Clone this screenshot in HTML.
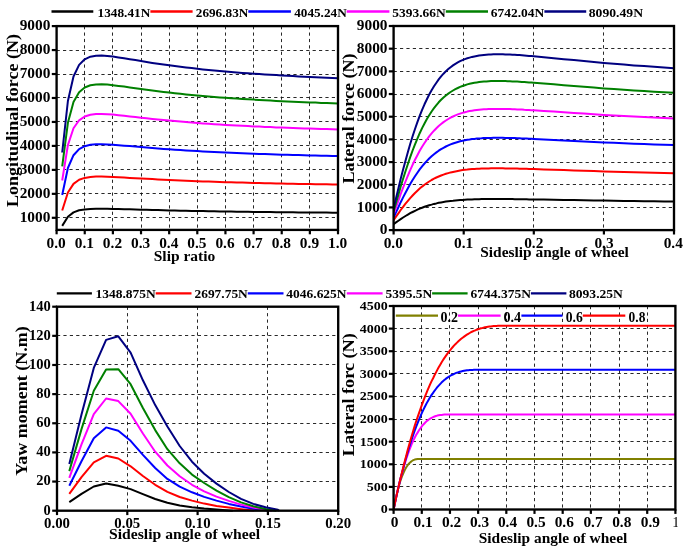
<!DOCTYPE html>
<html><head><meta charset="utf-8"><title>Tire force curves</title>
<style>
html,body{margin:0;padding:0;background:#fff;}
body{width:685px;height:548px;overflow:hidden;font-family:"Liberation Serif",serif;}
svg{display:block;will-change:transform;}
.g{stroke:#111;stroke-width:0.9;stroke-dasharray:3.2 3.2;}
.t{stroke:#000;stroke-width:2.2;}
</style></head><body>
<svg width="685" height="548" viewBox="0 0 685 548">
<defs>
<clipPath id="c2"><rect x="393.6" y="26.0" width="280.4" height="204.1"/></clipPath>
<clipPath id="c1"><rect x="660" y="510" width="17.6" height="30"/></clipPath>
<clipPath id="c4"><rect x="393.6" y="306.0" width="281.79999999999995" height="203.5"/></clipPath>
</defs>
<rect x="0" y="0" width="685" height="548" fill="#ffffff"/>
<line x1="84.50" y1="26.10" x2="84.50" y2="229.90" class="g"/>
<line x1="112.50" y1="26.10" x2="112.50" y2="229.90" class="g"/>
<line x1="141.50" y1="26.10" x2="141.50" y2="229.90" class="g"/>
<line x1="169.50" y1="26.10" x2="169.50" y2="229.90" class="g"/>
<line x1="197.50" y1="26.10" x2="197.50" y2="229.90" class="g"/>
<line x1="225.50" y1="26.10" x2="225.50" y2="229.90" class="g"/>
<line x1="253.50" y1="26.10" x2="253.50" y2="229.90" class="g"/>
<line x1="281.50" y1="26.10" x2="281.50" y2="229.90" class="g"/>
<line x1="309.50" y1="26.10" x2="309.50" y2="229.90" class="g"/>
<line x1="56.60" y1="217.50" x2="338.00" y2="217.50" class="g"/>
<line x1="56.60" y1="193.50" x2="338.00" y2="193.50" class="g"/>
<line x1="56.60" y1="169.50" x2="338.00" y2="169.50" class="g"/>
<line x1="56.60" y1="145.50" x2="338.00" y2="145.50" class="g"/>
<line x1="56.60" y1="121.50" x2="338.00" y2="121.50" class="g"/>
<line x1="56.60" y1="97.50" x2="338.00" y2="97.50" class="g"/>
<line x1="56.60" y1="74.50" x2="338.00" y2="74.50" class="g"/>
<line x1="56.60" y1="50.50" x2="338.00" y2="50.50" class="g"/>
<path d="M62.2,225.9 L67.9,216.8 L73.5,212.4 L79.1,210.3 L84.7,209.4 L90.4,208.9 L96.0,208.7 L101.6,208.7 L107.3,208.8 L112.9,208.9 L118.5,209.0 L124.1,209.2 L129.8,209.3 L135.4,209.5 L141.0,209.7 L146.6,209.8 L152.3,210.0 L157.9,210.1 L163.5,210.3 L169.2,210.4 L174.8,210.6 L180.4,210.7 L186.0,210.8 L191.7,210.9 L197.3,211.0 L202.9,211.1 L208.6,211.2 L214.2,211.3 L219.8,211.4 L225.4,211.5 L231.1,211.6 L236.7,211.7 L242.3,211.8 L248.0,211.8 L253.6,211.9 L259.2,212.0 L264.8,212.0 L270.5,212.1 L276.1,212.2 L281.7,212.2 L287.3,212.3 L293.0,212.3 L298.6,212.4 L304.2,212.4 L309.9,212.5 L315.5,212.5 L321.1,212.6 L326.7,212.6 L332.4,212.7 L338.0,212.7" fill="none" stroke="#000000" stroke-width="2.0" stroke-linejoin="round" stroke-linecap="butt"/>
<path d="M62.2,210.5 L67.9,192.5 L73.5,183.9 L79.1,179.8 L84.7,177.9 L90.4,177.0 L96.0,176.6 L101.6,176.6 L107.3,176.7 L112.9,176.9 L118.5,177.2 L124.1,177.5 L129.8,177.9 L135.4,178.2 L141.0,178.5 L146.6,178.8 L152.3,179.1 L157.9,179.4 L163.5,179.7 L169.2,180.0 L174.8,180.3 L180.4,180.5 L186.0,180.8 L191.7,181.0 L197.3,181.2 L202.9,181.4 L208.6,181.6 L214.2,181.8 L219.8,182.0 L225.4,182.2 L231.1,182.3 L236.7,182.5 L242.3,182.6 L248.0,182.8 L253.6,182.9 L259.2,183.1 L264.8,183.2 L270.5,183.3 L276.1,183.4 L281.7,183.6 L287.3,183.7 L293.0,183.8 L298.6,183.9 L304.2,184.0 L309.9,184.1 L315.5,184.2 L321.1,184.3 L326.7,184.3 L332.4,184.4 L338.0,184.5" fill="none" stroke="#ff0000" stroke-width="2.0" stroke-linejoin="round" stroke-linecap="butt"/>
<path d="M62.2,195.0 L67.9,168.0 L73.5,155.2 L79.1,149.1 L84.7,146.2 L90.4,144.8 L96.0,144.3 L101.6,144.2 L107.3,144.4 L112.9,144.8 L118.5,145.2 L124.1,145.7 L129.8,146.1 L135.4,146.6 L141.0,147.1 L146.6,147.6 L152.3,148.1 L157.9,148.5 L163.5,148.9 L169.2,149.3 L174.8,149.7 L180.4,150.1 L186.0,150.5 L191.7,150.8 L197.3,151.1 L202.9,151.5 L208.6,151.8 L214.2,152.0 L219.8,152.3 L225.4,152.6 L231.1,152.8 L236.7,153.1 L242.3,153.3 L248.0,153.5 L253.6,153.7 L259.2,153.9 L264.8,154.1 L270.5,154.3 L276.1,154.5 L281.7,154.7 L287.3,154.8 L293.0,155.0 L298.6,155.1 L304.2,155.3 L309.9,155.4 L315.5,155.6 L321.1,155.7 L326.7,155.8 L332.4,156.0 L338.0,156.1" fill="none" stroke="#0000ff" stroke-width="2.0" stroke-linejoin="round" stroke-linecap="butt"/>
<path d="M62.2,180.5 L67.9,145.1 L73.5,128.3 L79.1,120.3 L84.7,116.5 L90.4,114.7 L96.0,114.0 L101.6,113.9 L107.3,114.2 L112.9,114.6 L118.5,115.2 L124.1,115.8 L129.8,116.4 L135.4,117.1 L141.0,117.7 L146.6,118.3 L152.3,118.9 L157.9,119.5 L163.5,120.1 L169.2,120.6 L174.8,121.1 L180.4,121.6 L186.0,122.1 L191.7,122.5 L197.3,123.0 L202.9,123.4 L208.6,123.8 L214.2,124.2 L219.8,124.5 L225.4,124.9 L231.1,125.2 L236.7,125.5 L242.3,125.8 L248.0,126.1 L253.6,126.4 L259.2,126.6 L264.8,126.9 L270.5,127.1 L276.1,127.4 L281.7,127.6 L287.3,127.8 L293.0,128.0 L298.6,128.2 L304.2,128.4 L309.9,128.6 L315.5,128.8 L321.1,129.0 L326.7,129.1 L332.4,129.3 L338.0,129.5" fill="none" stroke="#ff00ff" stroke-width="2.0" stroke-linejoin="round" stroke-linecap="butt"/>
<path d="M62.2,166.3 L67.9,122.8 L73.5,102.0 L79.1,92.2 L84.7,87.5 L90.4,85.3 L96.0,84.4 L101.6,84.3 L107.3,84.6 L112.9,85.2 L118.5,85.9 L124.1,86.6 L129.8,87.4 L135.4,88.2 L141.0,89.0 L146.6,89.8 L152.3,90.5 L157.9,91.2 L163.5,91.9 L169.2,92.6 L174.8,93.2 L180.4,93.8 L186.0,94.4 L191.7,95.0 L197.3,95.5 L202.9,96.0 L208.6,96.5 L214.2,96.9 L219.8,97.4 L225.4,97.8 L231.1,98.2 L236.7,98.6 L242.3,98.9 L248.0,99.3 L253.6,99.6 L259.2,100.0 L264.8,100.3 L270.5,100.6 L276.1,100.9 L281.7,101.2 L287.3,101.4 L293.0,101.7 L298.6,101.9 L304.2,102.2 L309.9,102.4 L315.5,102.6 L321.1,102.9 L326.7,103.1 L332.4,103.3 L338.0,103.5" fill="none" stroke="#008000" stroke-width="2.0" stroke-linejoin="round" stroke-linecap="butt"/>
<path d="M62.2,152.5 L67.9,101.0 L73.5,76.5 L79.1,64.9 L84.7,59.3 L90.4,56.7 L96.0,55.7 L101.6,55.6 L107.3,55.9 L112.9,56.6 L118.5,57.4 L124.1,58.3 L129.8,59.2 L135.4,60.1 L141.0,61.1 L146.6,62.0 L152.3,62.9 L157.9,63.7 L163.5,64.5 L169.2,65.3 L174.8,66.1 L180.4,66.8 L186.0,67.5 L191.7,68.1 L197.3,68.8 L202.9,69.4 L208.6,69.9 L214.2,70.5 L219.8,71.0 L225.4,71.5 L231.1,72.0 L236.7,72.4 L242.3,72.9 L248.0,73.3 L253.6,73.7 L259.2,74.1 L264.8,74.4 L270.5,74.8 L276.1,75.1 L281.7,75.5 L287.3,75.8 L293.0,76.1 L298.6,76.4 L304.2,76.7 L309.9,77.0 L315.5,77.2 L321.1,77.5 L326.7,77.7 L332.4,78.0 L338.0,78.2" fill="none" stroke="#000080" stroke-width="2.0" stroke-linejoin="round" stroke-linecap="butt"/>
<rect x="56.60" y="26.10" width="281.40" height="203.80" fill="none" stroke="#000" stroke-width="2.35"/>
<line x1="56.60" y1="229.90" x2="56.60" y2="234.30" class="t"/>
<line x1="84.74" y1="229.90" x2="84.74" y2="234.30" class="t"/>
<line x1="112.88" y1="229.90" x2="112.88" y2="234.30" class="t"/>
<line x1="141.02" y1="229.90" x2="141.02" y2="234.30" class="t"/>
<line x1="169.16" y1="229.90" x2="169.16" y2="234.30" class="t"/>
<line x1="197.30" y1="229.90" x2="197.30" y2="234.30" class="t"/>
<line x1="225.44" y1="229.90" x2="225.44" y2="234.30" class="t"/>
<line x1="253.58" y1="229.90" x2="253.58" y2="234.30" class="t"/>
<line x1="281.72" y1="229.90" x2="281.72" y2="234.30" class="t"/>
<line x1="309.86" y1="229.90" x2="309.86" y2="234.30" class="t"/>
<line x1="338.00" y1="229.90" x2="338.00" y2="234.30" class="t"/>
<line x1="56.60" y1="217.80" x2="51.80" y2="217.80" class="t"/>
<line x1="56.60" y1="193.84" x2="51.80" y2="193.84" class="t"/>
<line x1="56.60" y1="169.88" x2="51.80" y2="169.88" class="t"/>
<line x1="56.60" y1="145.91" x2="51.80" y2="145.91" class="t"/>
<line x1="56.60" y1="121.95" x2="51.80" y2="121.95" class="t"/>
<line x1="56.60" y1="97.99" x2="51.80" y2="97.99" class="t"/>
<line x1="56.60" y1="74.03" x2="51.80" y2="74.03" class="t"/>
<line x1="56.60" y1="50.06" x2="51.80" y2="50.06" class="t"/>
<line x1="56.60" y1="26.10" x2="51.80" y2="26.10" class="t"/>
<text x="50.40" y="222.00" font-size="14.5" text-anchor="end" font-family="Liberation Serif, serif" font-weight="bold" textLength="30.7" lengthAdjust="spacingAndGlyphs" >1000</text>
<text x="50.40" y="198.04" font-size="14.5" text-anchor="end" font-family="Liberation Serif, serif" font-weight="bold" textLength="30.7" lengthAdjust="spacingAndGlyphs" >2000</text>
<text x="50.40" y="174.07" font-size="14.5" text-anchor="end" font-family="Liberation Serif, serif" font-weight="bold" textLength="30.7" lengthAdjust="spacingAndGlyphs" >3000</text>
<text x="50.40" y="150.11" font-size="14.5" text-anchor="end" font-family="Liberation Serif, serif" font-weight="bold" textLength="30.7" lengthAdjust="spacingAndGlyphs" >4000</text>
<text x="50.40" y="126.15" font-size="14.5" text-anchor="end" font-family="Liberation Serif, serif" font-weight="bold" textLength="30.7" lengthAdjust="spacingAndGlyphs" >5000</text>
<text x="50.40" y="102.19" font-size="14.5" text-anchor="end" font-family="Liberation Serif, serif" font-weight="bold" textLength="30.7" lengthAdjust="spacingAndGlyphs" >6000</text>
<text x="50.40" y="78.23" font-size="14.5" text-anchor="end" font-family="Liberation Serif, serif" font-weight="bold" textLength="30.7" lengthAdjust="spacingAndGlyphs" >7000</text>
<text x="50.40" y="54.26" font-size="14.5" text-anchor="end" font-family="Liberation Serif, serif" font-weight="bold" textLength="30.7" lengthAdjust="spacingAndGlyphs" >8000</text>
<text x="50.40" y="30.30" font-size="14.5" text-anchor="end" font-family="Liberation Serif, serif" font-weight="bold" textLength="30.7" lengthAdjust="spacingAndGlyphs" >9000</text>
<text x="56.20" y="247.80" font-size="14.5" text-anchor="middle" font-family="Liberation Serif, serif" font-weight="bold" textLength="19.2" lengthAdjust="spacingAndGlyphs" >0.0</text>
<text x="84.34" y="247.80" font-size="14.5" text-anchor="middle" font-family="Liberation Serif, serif" font-weight="bold" textLength="19.2" lengthAdjust="spacingAndGlyphs" >0.1</text>
<text x="112.48" y="247.80" font-size="14.5" text-anchor="middle" font-family="Liberation Serif, serif" font-weight="bold" textLength="19.2" lengthAdjust="spacingAndGlyphs" >0.2</text>
<text x="140.62" y="247.80" font-size="14.5" text-anchor="middle" font-family="Liberation Serif, serif" font-weight="bold" textLength="19.2" lengthAdjust="spacingAndGlyphs" >0.3</text>
<text x="168.76" y="247.80" font-size="14.5" text-anchor="middle" font-family="Liberation Serif, serif" font-weight="bold" textLength="19.2" lengthAdjust="spacingAndGlyphs" >0.4</text>
<text x="196.90" y="247.80" font-size="14.5" text-anchor="middle" font-family="Liberation Serif, serif" font-weight="bold" textLength="19.2" lengthAdjust="spacingAndGlyphs" >0.5</text>
<text x="225.04" y="247.80" font-size="14.5" text-anchor="middle" font-family="Liberation Serif, serif" font-weight="bold" textLength="19.2" lengthAdjust="spacingAndGlyphs" >0.6</text>
<text x="253.18" y="247.80" font-size="14.5" text-anchor="middle" font-family="Liberation Serif, serif" font-weight="bold" textLength="19.2" lengthAdjust="spacingAndGlyphs" >0.7</text>
<text x="281.32" y="247.80" font-size="14.5" text-anchor="middle" font-family="Liberation Serif, serif" font-weight="bold" textLength="19.2" lengthAdjust="spacingAndGlyphs" >0.8</text>
<text x="309.46" y="247.80" font-size="14.5" text-anchor="middle" font-family="Liberation Serif, serif" font-weight="bold" textLength="19.2" lengthAdjust="spacingAndGlyphs" >0.9</text>
<text x="337.60" y="247.80" font-size="14.5" text-anchor="middle" font-family="Liberation Serif, serif" font-weight="bold" textLength="19.2" lengthAdjust="spacingAndGlyphs" >1.0</text>
<text x="184.50" y="261.00" font-size="15.5" text-anchor="middle" font-family="Liberation Serif, serif" font-weight="bold" >Slip ratio</text>
<text transform="translate(17.90,120.50) rotate(-90)" font-size="17.2" text-anchor="middle" font-family="Liberation Serif, serif" font-weight="bold" textLength="173.0" lengthAdjust="spacingAndGlyphs">Longitudinal force (N)</text>
<line x1="463.50" y1="26.00" x2="463.50" y2="230.10" class="g"/>
<line x1="533.50" y1="26.00" x2="533.50" y2="230.10" class="g"/>
<line x1="603.50" y1="26.00" x2="603.50" y2="230.10" class="g"/>
<line x1="393.60" y1="207.50" x2="674.00" y2="207.50" class="g"/>
<line x1="393.60" y1="184.50" x2="674.00" y2="184.50" class="g"/>
<line x1="393.60" y1="162.50" x2="674.00" y2="162.50" class="g"/>
<line x1="393.60" y1="139.50" x2="674.00" y2="139.50" class="g"/>
<line x1="393.60" y1="116.50" x2="674.00" y2="116.50" class="g"/>
<line x1="393.60" y1="94.50" x2="674.00" y2="94.50" class="g"/>
<line x1="393.60" y1="71.50" x2="674.00" y2="71.50" class="g"/>
<line x1="393.60" y1="48.50" x2="674.00" y2="48.50" class="g"/>
<path d="M393.6,224.1 L396.0,222.4 L398.4,220.7 L400.7,219.1 L403.1,217.5 L405.5,216.0 L407.9,214.6 L410.2,213.2 L412.6,212.0 L415.0,210.8 L417.4,209.7 L419.7,208.6 L422.1,207.7 L424.5,206.8 L426.9,206.0 L429.2,205.2 L431.6,204.6 L434.0,203.9 L436.4,203.4 L438.7,202.8 L441.1,202.4 L443.5,202.0 L445.9,201.6 L448.3,201.2 L450.6,200.9 L453.0,200.7 L455.4,200.4 L457.8,200.2 L460.1,200.0 L462.5,199.9 L464.9,199.7 L467.3,199.6 L469.6,199.5 L472.0,199.4 L474.4,199.3 L476.8,199.2 L479.1,199.2 L481.5,199.1 L483.9,199.1 L486.3,199.1 L488.7,199.1 L491.0,199.0 L493.4,199.0 L495.8,199.0 L498.2,199.0 L500.5,199.0 L502.9,199.1 L505.3,199.1 L507.7,199.1 L510.0,199.1 L512.4,199.1 L514.8,199.2 L517.2,199.2 L519.5,199.2 L521.9,199.3 L524.3,199.3 L526.7,199.3 L529.0,199.4 L531.4,199.4 L533.8,199.4 L543.8,199.6 L553.8,199.8 L563.8,200.0 L573.9,200.1 L583.9,200.3 L593.9,200.5 L603.9,200.6 L613.9,200.8 L623.9,200.9 L633.9,201.0 L644.0,201.2 L654.0,201.3 L664.0,201.4 L674.0,201.5" fill="none" stroke="#000000" stroke-width="2.0" stroke-linejoin="round" stroke-linecap="butt" clip-path="url(#c2)"/>
<path d="M393.6,220.1 L396.0,216.6 L398.4,213.3 L400.7,210.0 L403.1,206.8 L405.5,203.7 L407.9,200.8 L410.2,198.1 L412.6,195.5 L415.0,193.0 L417.4,190.7 L419.7,188.6 L422.1,186.6 L424.5,184.7 L426.9,183.0 L429.2,181.5 L431.6,180.0 L434.0,178.7 L436.4,177.5 L438.7,176.5 L441.1,175.5 L443.5,174.6 L445.9,173.8 L448.3,173.1 L450.6,172.4 L453.0,171.9 L455.4,171.4 L457.8,170.9 L460.1,170.5 L462.5,170.1 L464.9,169.8 L467.3,169.6 L469.6,169.3 L472.0,169.1 L474.4,168.9 L476.8,168.8 L479.1,168.7 L481.5,168.6 L483.9,168.5 L486.3,168.4 L488.7,168.4 L491.0,168.3 L493.4,168.3 L495.8,168.3 L498.2,168.3 L500.5,168.3 L502.9,168.3 L505.3,168.4 L507.7,168.4 L510.0,168.4 L512.4,168.5 L514.8,168.5 L517.2,168.6 L519.5,168.7 L521.9,168.7 L524.3,168.8 L526.7,168.8 L529.0,168.9 L531.4,169.0 L533.8,169.1 L543.8,169.4 L553.8,169.7 L563.8,170.1 L573.9,170.4 L583.9,170.8 L593.9,171.1 L603.9,171.4 L613.9,171.7 L623.9,172.0 L633.9,172.3 L644.0,172.5 L654.0,172.8 L664.0,173.0 L674.0,173.2" fill="none" stroke="#ff0000" stroke-width="2.0" stroke-linejoin="round" stroke-linecap="butt" clip-path="url(#c2)"/>
<path d="M393.6,217.5 L396.0,212.3 L398.4,207.2 L400.7,202.2 L403.1,197.4 L405.5,192.7 L407.9,188.3 L410.2,184.1 L412.6,180.0 L415.0,176.3 L417.4,172.7 L419.7,169.4 L422.1,166.4 L424.5,163.5 L426.9,160.9 L429.2,158.5 L431.6,156.2 L434.0,154.2 L436.4,152.4 L438.7,150.7 L441.1,149.1 L443.5,147.8 L445.9,146.5 L448.3,145.4 L450.6,144.4 L453.0,143.5 L455.4,142.7 L457.8,142.0 L460.1,141.3 L462.5,140.8 L464.9,140.3 L467.3,139.8 L469.6,139.5 L472.0,139.1 L474.4,138.9 L476.8,138.6 L479.1,138.4 L481.5,138.3 L483.9,138.1 L486.3,138.0 L488.7,137.9 L491.0,137.9 L493.4,137.8 L495.8,137.8 L498.2,137.8 L500.5,137.8 L502.9,137.8 L505.3,137.9 L507.7,137.9 L510.0,138.0 L512.4,138.0 L514.8,138.1 L517.2,138.2 L519.5,138.3 L521.9,138.4 L524.3,138.5 L526.7,138.6 L529.0,138.7 L531.4,138.8 L533.8,138.9 L543.8,139.4 L553.8,139.9 L563.8,140.4 L573.9,140.9 L583.9,141.4 L593.9,141.9 L603.9,142.4 L613.9,142.8 L623.9,143.3 L633.9,143.7 L644.0,144.1 L654.0,144.4 L664.0,144.8 L674.0,145.1" fill="none" stroke="#0000ff" stroke-width="2.0" stroke-linejoin="round" stroke-linecap="butt" clip-path="url(#c2)"/>
<path d="M393.6,214.2 L396.0,207.3 L398.4,200.6 L400.7,194.0 L403.1,187.6 L405.5,181.5 L407.9,175.7 L410.2,170.1 L412.6,164.8 L415.0,159.8 L417.4,155.2 L419.7,150.8 L422.1,146.7 L424.5,143.0 L426.9,139.5 L429.2,136.3 L431.6,133.4 L434.0,130.7 L436.4,128.2 L438.7,126.0 L441.1,124.0 L443.5,122.1 L445.9,120.5 L448.3,119.0 L450.6,117.7 L453.0,116.5 L455.4,115.4 L457.8,114.4 L460.1,113.6 L462.5,112.9 L464.9,112.2 L467.3,111.6 L469.6,111.1 L472.0,110.7 L474.4,110.3 L476.8,110.0 L479.1,109.7 L481.5,109.5 L483.9,109.3 L486.3,109.2 L488.7,109.1 L491.0,109.0 L493.4,108.9 L495.8,108.9 L498.2,108.9 L500.5,108.9 L502.9,108.9 L505.3,109.0 L507.7,109.0 L510.0,109.1 L512.4,109.2 L514.8,109.3 L517.2,109.4 L519.5,109.5 L521.9,109.6 L524.3,109.8 L526.7,109.9 L529.0,110.0 L531.4,110.2 L533.8,110.3 L543.8,111.0 L553.8,111.6 L563.8,112.3 L573.9,113.0 L583.9,113.6 L593.9,114.3 L603.9,114.9 L613.9,115.5 L623.9,116.0 L633.9,116.6 L644.0,117.1 L654.0,117.6 L664.0,118.1 L674.0,118.5" fill="none" stroke="#ff00ff" stroke-width="2.0" stroke-linejoin="round" stroke-linecap="butt" clip-path="url(#c2)"/>
<path d="M393.6,211.5 L396.0,203.0 L398.4,194.7 L400.7,186.6 L403.1,178.8 L405.5,171.2 L407.9,164.0 L410.2,157.1 L412.6,150.5 L415.0,144.4 L417.4,138.6 L419.7,133.2 L422.1,128.1 L424.5,123.5 L426.9,119.1 L429.2,115.2 L431.6,111.5 L434.0,108.2 L436.4,105.1 L438.7,102.3 L441.1,99.8 L443.5,97.5 L445.9,95.5 L448.3,93.6 L450.6,92.0 L453.0,90.5 L455.4,89.1 L457.8,88.0 L460.1,86.9 L462.5,86.0 L464.9,85.2 L467.3,84.4 L469.6,83.8 L472.0,83.3 L474.4,82.8 L476.8,82.4 L479.1,82.1 L481.5,81.8 L483.9,81.5 L486.3,81.4 L488.7,81.2 L491.0,81.1 L493.4,81.0 L495.8,81.0 L498.2,81.0 L500.5,81.0 L502.9,81.0 L505.3,81.1 L507.7,81.2 L510.0,81.3 L512.4,81.4 L514.8,81.5 L517.2,81.6 L519.5,81.7 L521.9,81.9 L524.3,82.0 L526.7,82.2 L529.0,82.4 L531.4,82.5 L533.8,82.7 L543.8,83.5 L553.8,84.3 L563.8,85.2 L573.9,86.0 L583.9,86.8 L593.9,87.6 L603.9,88.4 L613.9,89.1 L623.9,89.8 L633.9,90.4 L644.0,91.1 L654.0,91.7 L664.0,92.3 L674.0,92.8" fill="none" stroke="#008000" stroke-width="2.0" stroke-linejoin="round" stroke-linecap="butt" clip-path="url(#c2)"/>
<path d="M393.6,208.2 L396.0,198.2 L398.4,188.4 L400.7,178.8 L403.1,169.6 L405.5,160.7 L407.9,152.1 L410.2,144.0 L412.6,136.3 L415.0,129.0 L417.4,122.2 L419.7,115.8 L422.1,109.8 L424.5,104.3 L426.9,99.2 L429.2,94.5 L431.6,90.2 L434.0,86.3 L436.4,82.7 L438.7,79.4 L441.1,76.4 L443.5,73.7 L445.9,71.3 L448.3,69.1 L450.6,67.2 L453.0,65.4 L455.4,63.8 L457.8,62.4 L460.1,61.2 L462.5,60.1 L464.9,59.1 L467.3,58.3 L469.6,57.6 L472.0,56.9 L474.4,56.4 L476.8,55.9 L479.1,55.5 L481.5,55.2 L483.9,54.9 L486.3,54.7 L488.7,54.5 L491.0,54.4 L493.4,54.3 L495.8,54.2 L498.2,54.2 L500.5,54.2 L502.9,54.3 L505.3,54.4 L507.7,54.4 L510.0,54.5 L512.4,54.7 L514.8,54.8 L517.2,55.0 L519.5,55.1 L521.9,55.3 L524.3,55.5 L526.7,55.7 L529.0,55.9 L531.4,56.1 L533.8,56.3 L543.8,57.2 L553.8,58.2 L563.8,59.2 L573.9,60.1 L583.9,61.1 L593.9,62.0 L603.9,62.9 L613.9,63.8 L623.9,64.6 L633.9,65.4 L644.0,66.1 L654.0,66.8 L664.0,67.5 L674.0,68.2" fill="none" stroke="#000080" stroke-width="2.0" stroke-linejoin="round" stroke-linecap="butt" clip-path="url(#c2)"/>
<rect x="393.60" y="26.00" width="280.40" height="204.10" fill="none" stroke="#000" stroke-width="2.35"/>
<line x1="393.60" y1="230.10" x2="393.60" y2="234.50" class="t"/>
<line x1="463.70" y1="230.10" x2="463.70" y2="234.50" class="t"/>
<line x1="533.80" y1="230.10" x2="533.80" y2="234.50" class="t"/>
<line x1="603.90" y1="230.10" x2="603.90" y2="234.50" class="t"/>
<line x1="674.00" y1="230.10" x2="674.00" y2="234.50" class="t"/>
<line x1="393.60" y1="230.10" x2="388.80" y2="230.10" class="t"/>
<line x1="393.60" y1="207.42" x2="388.80" y2="207.42" class="t"/>
<line x1="393.60" y1="184.74" x2="388.80" y2="184.74" class="t"/>
<line x1="393.60" y1="162.07" x2="388.80" y2="162.07" class="t"/>
<line x1="393.60" y1="139.39" x2="388.80" y2="139.39" class="t"/>
<line x1="393.60" y1="116.71" x2="388.80" y2="116.71" class="t"/>
<line x1="393.60" y1="94.03" x2="388.80" y2="94.03" class="t"/>
<line x1="393.60" y1="71.36" x2="388.80" y2="71.36" class="t"/>
<line x1="393.60" y1="48.68" x2="388.80" y2="48.68" class="t"/>
<line x1="393.60" y1="26.00" x2="388.80" y2="26.00" class="t"/>
<text x="387.50" y="234.30" font-size="14.5" text-anchor="end" font-family="Liberation Serif, serif" font-weight="bold" textLength="7.7" lengthAdjust="spacingAndGlyphs" >0</text>
<text x="387.50" y="211.62" font-size="14.5" text-anchor="end" font-family="Liberation Serif, serif" font-weight="bold" textLength="30.7" lengthAdjust="spacingAndGlyphs" >1000</text>
<text x="387.50" y="188.94" font-size="14.5" text-anchor="end" font-family="Liberation Serif, serif" font-weight="bold" textLength="30.7" lengthAdjust="spacingAndGlyphs" >2000</text>
<text x="387.50" y="166.27" font-size="14.5" text-anchor="end" font-family="Liberation Serif, serif" font-weight="bold" textLength="30.7" lengthAdjust="spacingAndGlyphs" >3000</text>
<text x="387.50" y="143.59" font-size="14.5" text-anchor="end" font-family="Liberation Serif, serif" font-weight="bold" textLength="30.7" lengthAdjust="spacingAndGlyphs" >4000</text>
<text x="387.50" y="120.91" font-size="14.5" text-anchor="end" font-family="Liberation Serif, serif" font-weight="bold" textLength="30.7" lengthAdjust="spacingAndGlyphs" >5000</text>
<text x="387.50" y="98.23" font-size="14.5" text-anchor="end" font-family="Liberation Serif, serif" font-weight="bold" textLength="30.7" lengthAdjust="spacingAndGlyphs" >6000</text>
<text x="387.50" y="75.56" font-size="14.5" text-anchor="end" font-family="Liberation Serif, serif" font-weight="bold" textLength="30.7" lengthAdjust="spacingAndGlyphs" >7000</text>
<text x="387.50" y="52.88" font-size="14.5" text-anchor="end" font-family="Liberation Serif, serif" font-weight="bold" textLength="30.7" lengthAdjust="spacingAndGlyphs" >8000</text>
<text x="387.50" y="30.20" font-size="14.5" text-anchor="end" font-family="Liberation Serif, serif" font-weight="bold" textLength="30.7" lengthAdjust="spacingAndGlyphs" >9000</text>
<text x="393.30" y="248.20" font-size="14.5" text-anchor="middle" font-family="Liberation Serif, serif" font-weight="bold" textLength="19.2" lengthAdjust="spacingAndGlyphs" >0.0</text>
<text x="463.60" y="248.20" font-size="14.5" text-anchor="middle" font-family="Liberation Serif, serif" font-weight="bold" textLength="19.2" lengthAdjust="spacingAndGlyphs" >0.1</text>
<text x="533.80" y="248.20" font-size="14.5" text-anchor="middle" font-family="Liberation Serif, serif" font-weight="bold" textLength="19.2" lengthAdjust="spacingAndGlyphs" >0.2</text>
<text x="604.00" y="248.20" font-size="14.5" text-anchor="middle" font-family="Liberation Serif, serif" font-weight="bold" textLength="19.2" lengthAdjust="spacingAndGlyphs" >0.3</text>
<text x="673.30" y="248.20" font-size="14.5" text-anchor="middle" font-family="Liberation Serif, serif" font-weight="bold" textLength="19.2" lengthAdjust="spacingAndGlyphs" >0.4</text>
<text x="554.50" y="257.00" font-size="15.5" text-anchor="middle" font-family="Liberation Serif, serif" font-weight="bold" textLength="148.5" lengthAdjust="spacingAndGlyphs" >Sideslip angle of wheel</text>
<text transform="translate(353.80,118.50) rotate(-90)" font-size="17.6" text-anchor="middle" font-family="Liberation Serif, serif" font-weight="bold" textLength="130.0" lengthAdjust="spacingAndGlyphs">Lateral force (N)</text>
<line x1="127.50" y1="306.70" x2="127.50" y2="510.70" class="g"/>
<line x1="197.50" y1="306.70" x2="197.50" y2="510.70" class="g"/>
<line x1="267.50" y1="306.70" x2="267.50" y2="510.70" class="g"/>
<line x1="57.00" y1="481.50" x2="338.20" y2="481.50" class="g"/>
<line x1="57.00" y1="452.50" x2="338.20" y2="452.50" class="g"/>
<line x1="57.00" y1="423.50" x2="338.20" y2="423.50" class="g"/>
<line x1="57.00" y1="394.50" x2="338.20" y2="394.50" class="g"/>
<line x1="57.00" y1="364.50" x2="338.20" y2="364.50" class="g"/>
<line x1="57.00" y1="335.50" x2="338.20" y2="335.50" class="g"/>
<path d="M69.3,502.2 L81.5,493.9 L93.8,486.5 L106.1,483.5 L118.3,485.8 L130.6,489.1 L142.9,494.2 L155.2,499.0 L167.4,502.8 L179.7,505.5 L192.0,507.2 L204.2,508.5 L216.5,509.5 L228.8,510.4 L232.8,510.7" fill="none" stroke="#000000" stroke-width="2.0" stroke-linejoin="round" stroke-linecap="butt"/>
<path d="M69.3,493.9 L81.5,477.2 L93.8,462.3 L106.1,455.8 L118.3,458.5 L130.6,466.3 L142.9,476.0 L155.2,484.8 L167.4,491.8 L179.7,497.0 L192.0,500.6 L204.2,503.6 L216.5,505.9 L228.8,507.6 L241.0,509.2 L253.3,510.6 L253.8,510.7" fill="none" stroke="#ff0000" stroke-width="2.0" stroke-linejoin="round" stroke-linecap="butt"/>
<path d="M69.3,485.8 L81.5,461.2 L93.8,438.3 L106.1,427.4 L118.3,430.8 L130.6,440.8 L142.9,454.9 L155.2,468.0 L167.4,478.9 L179.7,486.7 L192.0,492.3 L204.2,496.9 L216.5,500.6 L228.8,503.9 L241.0,506.5 L253.3,508.7 L265.6,510.3 L267.9,510.7" fill="none" stroke="#0000ff" stroke-width="2.0" stroke-linejoin="round" stroke-linecap="butt"/>
<path d="M69.3,477.8 L81.5,444.4 L93.8,414.1 L106.1,398.5 L118.3,401.1 L130.6,413.8 L142.9,433.5 L155.2,451.7 L167.4,465.5 L179.7,476.3 L192.0,484.8 L204.2,491.3 L216.5,496.6 L228.8,500.9 L241.0,504.6 L253.3,507.5 L265.6,509.7 L272.1,510.7" fill="none" stroke="#ff00ff" stroke-width="2.0" stroke-linejoin="round" stroke-linecap="butt"/>
<path d="M69.3,471.1 L81.5,429.1 L93.8,390.8 L106.1,369.4 L118.3,369.2 L130.6,384.2 L142.9,408.0 L155.2,430.1 L167.4,449.2 L179.7,463.3 L192.0,474.6 L204.2,483.0 L216.5,490.6 L228.8,497.1 L241.0,502.4 L253.3,506.3 L265.6,509.1 L276.3,510.7" fill="none" stroke="#008000" stroke-width="2.0" stroke-linejoin="round" stroke-linecap="butt"/>
<path d="M69.3,464.1 L81.5,414.5 L93.8,367.9 L106.1,339.9 L118.3,336.3 L130.6,352.7 L142.9,380.3 L155.2,405.1 L167.4,426.5 L179.7,446.0 L192.0,461.7 L204.2,473.7 L216.5,483.6 L228.8,492.0 L241.0,498.9 L253.3,503.9 L265.6,507.3 L277.9,509.7 L279.1,510.7" fill="none" stroke="#000080" stroke-width="2.0" stroke-linejoin="round" stroke-linecap="butt"/>
<rect x="57.00" y="306.70" width="281.20" height="204.00" fill="none" stroke="#000" stroke-width="2.35"/>
<line x1="57.00" y1="510.70" x2="57.00" y2="515.10" class="t"/>
<line x1="127.30" y1="510.70" x2="127.30" y2="515.10" class="t"/>
<line x1="197.60" y1="510.70" x2="197.60" y2="515.10" class="t"/>
<line x1="267.90" y1="510.70" x2="267.90" y2="515.10" class="t"/>
<line x1="338.20" y1="510.70" x2="338.20" y2="515.10" class="t"/>
<line x1="57.00" y1="510.70" x2="52.20" y2="510.70" class="t"/>
<line x1="57.00" y1="481.56" x2="52.20" y2="481.56" class="t"/>
<line x1="57.00" y1="452.41" x2="52.20" y2="452.41" class="t"/>
<line x1="57.00" y1="423.27" x2="52.20" y2="423.27" class="t"/>
<line x1="57.00" y1="394.13" x2="52.20" y2="394.13" class="t"/>
<line x1="57.00" y1="364.99" x2="52.20" y2="364.99" class="t"/>
<line x1="57.00" y1="335.84" x2="52.20" y2="335.84" class="t"/>
<line x1="57.00" y1="306.70" x2="52.20" y2="306.70" class="t"/>
<text x="50.70" y="514.50" font-size="14.5" text-anchor="end" font-family="Liberation Serif, serif" font-weight="bold" textLength="7.2" lengthAdjust="spacingAndGlyphs" >0</text>
<text x="50.70" y="485.36" font-size="14.5" text-anchor="end" font-family="Liberation Serif, serif" font-weight="bold" textLength="14.5" lengthAdjust="spacingAndGlyphs" >20</text>
<text x="50.70" y="456.21" font-size="14.5" text-anchor="end" font-family="Liberation Serif, serif" font-weight="bold" textLength="14.5" lengthAdjust="spacingAndGlyphs" >40</text>
<text x="50.70" y="427.07" font-size="14.5" text-anchor="end" font-family="Liberation Serif, serif" font-weight="bold" textLength="14.5" lengthAdjust="spacingAndGlyphs" >60</text>
<text x="50.70" y="397.93" font-size="14.5" text-anchor="end" font-family="Liberation Serif, serif" font-weight="bold" textLength="14.5" lengthAdjust="spacingAndGlyphs" >80</text>
<text x="50.70" y="368.79" font-size="14.5" text-anchor="end" font-family="Liberation Serif, serif" font-weight="bold" textLength="21.8" lengthAdjust="spacingAndGlyphs" >100</text>
<text x="50.70" y="339.64" font-size="14.5" text-anchor="end" font-family="Liberation Serif, serif" font-weight="bold" textLength="21.8" lengthAdjust="spacingAndGlyphs" >120</text>
<text x="50.70" y="310.50" font-size="14.5" text-anchor="end" font-family="Liberation Serif, serif" font-weight="bold" textLength="21.8" lengthAdjust="spacingAndGlyphs" >140</text>
<text x="57.00" y="528.30" font-size="14.5" text-anchor="middle" font-family="Liberation Serif, serif" font-weight="bold" textLength="25.9" lengthAdjust="spacingAndGlyphs" >0.00</text>
<text x="127.30" y="528.30" font-size="14.5" text-anchor="middle" font-family="Liberation Serif, serif" font-weight="bold" textLength="25.9" lengthAdjust="spacingAndGlyphs" >0.05</text>
<text x="197.60" y="528.30" font-size="14.5" text-anchor="middle" font-family="Liberation Serif, serif" font-weight="bold" textLength="25.9" lengthAdjust="spacingAndGlyphs" >0.10</text>
<text x="267.90" y="528.30" font-size="14.5" text-anchor="middle" font-family="Liberation Serif, serif" font-weight="bold" textLength="25.9" lengthAdjust="spacingAndGlyphs" >0.15</text>
<text x="338.20" y="528.30" font-size="14.5" text-anchor="middle" font-family="Liberation Serif, serif" font-weight="bold" textLength="25.9" lengthAdjust="spacingAndGlyphs" >0.20</text>
<text x="184.50" y="538.90" font-size="15.5" text-anchor="middle" font-family="Liberation Serif, serif" font-weight="bold" textLength="151.0" lengthAdjust="spacingAndGlyphs" >Sideslip angle of wheel</text>
<text transform="translate(26.80,401.00) rotate(-90)" font-size="17.5" text-anchor="middle" font-family="Liberation Serif, serif" font-weight="bold" textLength="149.5" lengthAdjust="spacingAndGlyphs">Yaw moment (N.m)</text>
<line x1="421.50" y1="306.00" x2="421.50" y2="509.50" class="g"/>
<line x1="449.50" y1="306.00" x2="449.50" y2="509.50" class="g"/>
<line x1="478.50" y1="306.00" x2="478.50" y2="509.50" class="g"/>
<line x1="506.50" y1="306.00" x2="506.50" y2="509.50" class="g"/>
<line x1="534.50" y1="306.00" x2="534.50" y2="509.50" class="g"/>
<line x1="562.50" y1="306.00" x2="562.50" y2="509.50" class="g"/>
<line x1="590.50" y1="306.00" x2="590.50" y2="509.50" class="g"/>
<line x1="619.50" y1="306.00" x2="619.50" y2="509.50" class="g"/>
<line x1="647.50" y1="306.00" x2="647.50" y2="509.50" class="g"/>
<line x1="393.60" y1="486.50" x2="675.40" y2="486.50" class="g"/>
<line x1="393.60" y1="464.50" x2="675.40" y2="464.50" class="g"/>
<line x1="393.60" y1="441.50" x2="675.40" y2="441.50" class="g"/>
<line x1="393.60" y1="419.50" x2="675.40" y2="419.50" class="g"/>
<line x1="393.60" y1="396.50" x2="675.40" y2="396.50" class="g"/>
<line x1="393.60" y1="373.50" x2="675.40" y2="373.50" class="g"/>
<line x1="393.60" y1="351.50" x2="675.40" y2="351.50" class="g"/>
<line x1="393.60" y1="328.50" x2="675.40" y2="328.50" class="g"/>
<path d="M393.6,509.5 L395.0,502.3 L396.4,495.8 L397.8,490.0 L399.2,484.8 L400.6,480.2 L402.1,476.2 L403.5,472.8 L404.9,469.8 L406.3,467.3 L407.7,465.2 L409.1,463.5 L410.5,462.1 L411.9,461.0 L413.3,460.2 L414.7,459.6 L416.1,459.3 L417.6,459.0 L419.0,458.9 L420.4,458.9 L421.8,458.9 L423.2,458.9 L424.6,458.9 L426.0,458.9 L427.4,458.9 L428.8,458.9 L430.2,458.9 L431.6,458.9 L433.1,458.9 L434.5,458.9 L435.9,458.9 L437.3,458.9 L438.7,458.9 L440.1,458.9 L441.5,458.9 L442.9,458.9 L444.3,458.9 L445.7,458.9 L447.1,458.9 L448.6,458.9 L450.0,458.9 L451.4,458.9 L452.8,458.9 L454.2,458.9 L455.6,458.9 L457.0,458.9 L458.4,458.9 L459.8,458.9 L461.2,458.9 L462.6,458.9 L464.1,458.9 L465.5,458.9 L466.9,458.9 L468.3,458.9 L469.7,458.9 L471.1,458.9 L472.5,458.9 L473.9,458.9 L475.3,458.9 L476.7,458.9 L478.1,458.9 L479.5,458.9 L481.0,458.9 L482.4,458.9 L483.8,458.9 L485.2,458.9 L486.6,458.9 L488.0,458.9 L489.4,458.9 L490.8,458.9 L492.2,458.9 L493.6,458.9 L495.0,458.9 L496.5,458.9 L497.9,458.9 L499.3,458.9 L500.7,458.9 L502.1,458.9 L503.5,458.9 L504.9,458.9 L506.3,458.9 L507.7,458.9 L509.1,458.9 L510.5,458.9 L512.0,458.9 L675.4,458.9" fill="none" stroke="#808000" stroke-width="2.0" stroke-linejoin="round" stroke-linecap="butt" clip-path="url(#c4)"/>
<path d="M393.6,509.5 L395.0,502.6 L396.4,496.0 L397.8,489.7 L399.2,483.8 L400.6,478.2 L402.1,472.9 L403.5,467.9 L404.9,463.2 L406.3,458.7 L407.7,454.6 L409.1,450.7 L410.5,447.1 L411.9,443.7 L413.3,440.6 L414.7,437.7 L416.1,435.0 L417.6,432.6 L419.0,430.3 L420.4,428.3 L421.8,426.4 L423.2,424.7 L424.6,423.2 L426.0,421.8 L427.4,420.6 L428.8,419.5 L430.2,418.6 L431.6,417.8 L433.1,417.1 L434.5,416.5 L435.9,416.0 L437.3,415.6 L438.7,415.3 L440.1,415.0 L441.5,414.9 L442.9,414.7 L444.3,414.6 L445.7,414.6 L447.1,414.5 L448.6,414.5 L450.0,414.5 L451.4,414.5 L452.8,414.5 L454.2,414.5 L455.6,414.5 L457.0,414.5 L458.4,414.5 L459.8,414.5 L461.2,414.5 L462.6,414.5 L464.1,414.5 L465.5,414.5 L466.9,414.5 L468.3,414.5 L469.7,414.5 L471.1,414.5 L472.5,414.5 L473.9,414.5 L475.3,414.5 L476.7,414.5 L478.1,414.5 L479.5,414.5 L481.0,414.5 L482.4,414.5 L483.8,414.5 L485.2,414.5 L486.6,414.5 L488.0,414.5 L489.4,414.5 L490.8,414.5 L492.2,414.5 L493.6,414.5 L495.0,414.5 L496.5,414.5 L497.9,414.5 L499.3,414.5 L500.7,414.5 L502.1,414.5 L503.5,414.5 L504.9,414.5 L506.3,414.5 L507.7,414.5 L509.1,414.5 L510.5,414.5 L512.0,414.5 L675.4,414.5" fill="none" stroke="#ff00ff" stroke-width="2.0" stroke-linejoin="round" stroke-linecap="butt" clip-path="url(#c4)"/>
<path d="M393.6,509.5 L395.0,502.8 L396.4,496.4 L397.8,490.2 L399.2,484.2 L400.6,478.3 L402.1,472.7 L403.5,467.3 L404.9,462.1 L406.3,457.1 L407.7,452.2 L409.1,447.5 L410.5,443.1 L411.9,438.7 L413.3,434.6 L414.7,430.6 L416.1,426.8 L417.6,423.2 L419.0,419.7 L420.4,416.4 L421.8,413.2 L423.2,410.2 L424.6,407.3 L426.0,404.5 L427.4,401.9 L428.8,399.5 L430.2,397.1 L431.6,394.9 L433.1,392.8 L434.5,390.8 L435.9,389.0 L437.3,387.2 L438.7,385.6 L440.1,384.1 L441.5,382.6 L442.9,381.3 L444.3,380.1 L445.7,378.9 L447.1,377.9 L448.6,376.9 L450.0,376.0 L451.4,375.2 L452.8,374.5 L454.2,373.8 L455.6,373.2 L457.0,372.6 L458.4,372.2 L459.8,371.7 L461.2,371.4 L462.6,371.1 L464.1,370.8 L465.5,370.5 L466.9,370.3 L468.3,370.2 L469.7,370.1 L471.1,370.0 L472.5,369.9 L473.9,369.8 L475.3,369.8 L476.7,369.8 L478.1,369.8 L479.5,369.8 L481.0,369.8 L482.4,369.8 L483.8,369.8 L485.2,369.8 L486.6,369.8 L488.0,369.8 L489.4,369.8 L490.8,369.8 L492.2,369.8 L493.6,369.8 L495.0,369.8 L496.5,369.8 L497.9,369.8 L499.3,369.8 L500.7,369.8 L502.1,369.8 L503.5,369.8 L504.9,369.8 L506.3,369.8 L507.7,369.8 L509.1,369.8 L510.5,369.8 L512.0,369.8 L675.4,369.8" fill="none" stroke="#0000ff" stroke-width="2.0" stroke-linejoin="round" stroke-linecap="butt" clip-path="url(#c4)"/>
<path d="M393.6,509.5 L395.0,502.9 L396.4,496.4 L397.8,490.1 L399.2,483.9 L400.6,477.9 L402.1,472.0 L403.5,466.3 L404.9,460.8 L406.3,455.4 L407.7,450.1 L409.1,445.0 L410.5,440.0 L411.9,435.2 L413.3,430.5 L414.7,425.9 L416.1,421.5 L417.6,417.2 L419.0,413.1 L420.4,409.0 L421.8,405.1 L423.2,401.3 L424.6,397.7 L426.0,394.1 L427.4,390.7 L428.8,387.4 L430.2,384.2 L431.6,381.1 L433.1,378.2 L434.5,375.3 L435.9,372.6 L437.3,369.9 L438.7,367.3 L440.1,364.9 L441.5,362.5 L442.9,360.3 L444.3,358.1 L445.7,356.1 L447.1,354.1 L448.6,352.2 L450.0,350.4 L451.4,348.7 L452.8,347.0 L454.2,345.4 L455.6,344.0 L457.0,342.6 L458.4,341.2 L459.8,340.0 L461.2,338.8 L462.6,337.7 L464.1,336.6 L465.5,335.6 L466.9,334.7 L468.3,333.8 L469.7,333.0 L471.1,332.2 L472.5,331.5 L473.9,330.9 L475.3,330.3 L476.7,329.7 L478.1,329.2 L479.5,328.8 L481.0,328.3 L482.4,328.0 L483.8,327.6 L485.2,327.3 L486.6,327.0 L488.0,326.8 L489.4,326.6 L490.8,326.4 L492.2,326.2 L493.6,326.1 L495.0,326.0 L496.5,325.9 L497.9,325.8 L499.3,325.8 L500.7,325.7 L502.1,325.7 L503.5,325.7 L504.9,325.7 L506.3,325.7 L507.7,325.7 L509.1,325.7 L510.5,325.7 L512.0,325.7 L675.4,325.7" fill="none" stroke="#ff0000" stroke-width="2.0" stroke-linejoin="round" stroke-linecap="butt" clip-path="url(#c4)"/>
<rect x="393.60" y="306.00" width="281.80" height="203.50" fill="none" stroke="#000" stroke-width="2.35"/>
<line x1="393.60" y1="509.50" x2="393.60" y2="513.90" class="t"/>
<line x1="421.78" y1="509.50" x2="421.78" y2="513.90" class="t"/>
<line x1="449.96" y1="509.50" x2="449.96" y2="513.90" class="t"/>
<line x1="478.14" y1="509.50" x2="478.14" y2="513.90" class="t"/>
<line x1="506.32" y1="509.50" x2="506.32" y2="513.90" class="t"/>
<line x1="534.50" y1="509.50" x2="534.50" y2="513.90" class="t"/>
<line x1="562.68" y1="509.50" x2="562.68" y2="513.90" class="t"/>
<line x1="590.86" y1="509.50" x2="590.86" y2="513.90" class="t"/>
<line x1="619.04" y1="509.50" x2="619.04" y2="513.90" class="t"/>
<line x1="647.22" y1="509.50" x2="647.22" y2="513.90" class="t"/>
<line x1="675.40" y1="509.50" x2="675.40" y2="513.90" class="t"/>
<line x1="393.60" y1="509.50" x2="388.80" y2="509.50" class="t"/>
<line x1="393.60" y1="486.89" x2="388.80" y2="486.89" class="t"/>
<line x1="393.60" y1="464.28" x2="388.80" y2="464.28" class="t"/>
<line x1="393.60" y1="441.67" x2="388.80" y2="441.67" class="t"/>
<line x1="393.60" y1="419.06" x2="388.80" y2="419.06" class="t"/>
<line x1="393.60" y1="396.44" x2="388.80" y2="396.44" class="t"/>
<line x1="393.60" y1="373.83" x2="388.80" y2="373.83" class="t"/>
<line x1="393.60" y1="351.22" x2="388.80" y2="351.22" class="t"/>
<line x1="393.60" y1="328.61" x2="388.80" y2="328.61" class="t"/>
<line x1="393.60" y1="306.00" x2="388.80" y2="306.00" class="t"/>
<text x="387.70" y="513.40" font-size="13.1" text-anchor="end" font-family="Liberation Serif, serif" font-weight="bold" textLength="7.0" lengthAdjust="spacingAndGlyphs" >0</text>
<text x="387.70" y="490.79" font-size="13.1" text-anchor="end" font-family="Liberation Serif, serif" font-weight="bold" textLength="21.0" lengthAdjust="spacingAndGlyphs" >500</text>
<text x="387.70" y="468.18" font-size="13.1" text-anchor="end" font-family="Liberation Serif, serif" font-weight="bold" textLength="28.0" lengthAdjust="spacingAndGlyphs" >1000</text>
<text x="387.70" y="445.57" font-size="13.1" text-anchor="end" font-family="Liberation Serif, serif" font-weight="bold" textLength="28.0" lengthAdjust="spacingAndGlyphs" >1500</text>
<text x="387.70" y="422.96" font-size="13.1" text-anchor="end" font-family="Liberation Serif, serif" font-weight="bold" textLength="28.0" lengthAdjust="spacingAndGlyphs" >2000</text>
<text x="387.70" y="400.34" font-size="13.1" text-anchor="end" font-family="Liberation Serif, serif" font-weight="bold" textLength="28.0" lengthAdjust="spacingAndGlyphs" >2500</text>
<text x="387.70" y="377.73" font-size="13.1" text-anchor="end" font-family="Liberation Serif, serif" font-weight="bold" textLength="28.0" lengthAdjust="spacingAndGlyphs" >3000</text>
<text x="387.70" y="355.12" font-size="13.1" text-anchor="end" font-family="Liberation Serif, serif" font-weight="bold" textLength="28.0" lengthAdjust="spacingAndGlyphs" >3500</text>
<text x="387.70" y="332.51" font-size="13.1" text-anchor="end" font-family="Liberation Serif, serif" font-weight="bold" textLength="28.0" lengthAdjust="spacingAndGlyphs" >4000</text>
<text x="387.70" y="309.90" font-size="13.1" text-anchor="end" font-family="Liberation Serif, serif" font-weight="bold" textLength="28.0" lengthAdjust="spacingAndGlyphs" >4500</text>
<text x="394.50" y="526.90" font-size="14.5" text-anchor="middle" font-family="Liberation Serif, serif" font-weight="bold" textLength="7.7" lengthAdjust="spacingAndGlyphs" >0</text>
<text x="423.10" y="526.90" font-size="14.5" text-anchor="middle" font-family="Liberation Serif, serif" font-weight="bold" textLength="19.2" lengthAdjust="spacingAndGlyphs" >0.1</text>
<text x="451.70" y="526.90" font-size="14.5" text-anchor="middle" font-family="Liberation Serif, serif" font-weight="bold" textLength="19.2" lengthAdjust="spacingAndGlyphs" >0.2</text>
<text x="479.50" y="526.90" font-size="14.5" text-anchor="middle" font-family="Liberation Serif, serif" font-weight="bold" textLength="19.2" lengthAdjust="spacingAndGlyphs" >0.3</text>
<text x="507.50" y="526.90" font-size="14.5" text-anchor="middle" font-family="Liberation Serif, serif" font-weight="bold" textLength="19.2" lengthAdjust="spacingAndGlyphs" >0.4</text>
<text x="536.00" y="526.90" font-size="14.5" text-anchor="middle" font-family="Liberation Serif, serif" font-weight="bold" textLength="19.2" lengthAdjust="spacingAndGlyphs" >0.5</text>
<text x="564.30" y="526.90" font-size="14.5" text-anchor="middle" font-family="Liberation Serif, serif" font-weight="bold" textLength="19.2" lengthAdjust="spacingAndGlyphs" >0.6</text>
<text x="593.00" y="526.90" font-size="14.5" text-anchor="middle" font-family="Liberation Serif, serif" font-weight="bold" textLength="19.2" lengthAdjust="spacingAndGlyphs" >0.7</text>
<text x="621.80" y="526.90" font-size="14.5" text-anchor="middle" font-family="Liberation Serif, serif" font-weight="bold" textLength="19.2" lengthAdjust="spacingAndGlyphs" >0.8</text>
<text x="650.40" y="526.90" font-size="14.5" text-anchor="middle" font-family="Liberation Serif, serif" font-weight="bold" textLength="19.2" lengthAdjust="spacingAndGlyphs" >0.9</text>
<text x="672.3" y="526.9" font-size="14.5" font-family="Liberation Serif, serif" clip-path="url(#c1)">1</text>
<text x="553.00" y="543.30" font-size="15.5" text-anchor="middle" font-family="Liberation Serif, serif" font-weight="bold" textLength="148.5" lengthAdjust="spacingAndGlyphs" >Sideslip angle of wheel</text>
<text transform="translate(353.80,394.70) rotate(-90)" font-size="17.6" text-anchor="middle" font-family="Liberation Serif, serif" font-weight="bold" textLength="123.0" lengthAdjust="spacingAndGlyphs">Lateral forc (N)</text>
<line x1="395.8" y1="315.7" x2="438" y2="315.7" stroke="#808000" stroke-width="2.3"/>
<text x="440.50" y="321.80" font-size="14.3" text-anchor="start" font-family="Liberation Serif, serif" font-weight="bold" textLength="17.5" lengthAdjust="spacingAndGlyphs" >0.2</text>
<line x1="458" y1="315.7" x2="500.6" y2="315.7" stroke="#ff00ff" stroke-width="2.3"/>
<text x="503.50" y="321.80" font-size="14.3" text-anchor="start" font-family="Liberation Serif, serif" font-weight="bold" textLength="17.7" lengthAdjust="spacingAndGlyphs" >0.4</text>
<line x1="521.4" y1="315.7" x2="562.5" y2="315.7" stroke="#0000ff" stroke-width="2.3"/>
<text x="565.80" y="321.80" font-size="14.3" text-anchor="start" font-family="Liberation Serif, serif" font-weight="bold" textLength="17.0" lengthAdjust="spacingAndGlyphs" >0.6</text>
<line x1="582.8" y1="315.7" x2="625.3" y2="315.7" stroke="#ff0000" stroke-width="2.3"/>
<text x="628.60" y="321.80" font-size="14.3" text-anchor="start" font-family="Liberation Serif, serif" font-weight="bold" textLength="16.8" lengthAdjust="spacingAndGlyphs" >0.8</text>
<line x1="51.5" y1="11.5" x2="93.3" y2="11.5" stroke="#000000" stroke-width="2.3"/>
<text x="97.60" y="17.20" font-size="13.3" text-anchor="start" font-family="Liberation Serif, serif" font-weight="bold" textLength="52.7" lengthAdjust="spacingAndGlyphs" >1348.41N</text>
<line x1="150.4" y1="11.5" x2="192.6" y2="11.5" stroke="#ff0000" stroke-width="2.3"/>
<text x="195.80" y="17.20" font-size="13.3" text-anchor="start" font-family="Liberation Serif, serif" font-weight="bold" textLength="52.5" lengthAdjust="spacingAndGlyphs" >2696.83N</text>
<line x1="248.3" y1="11.5" x2="290.9" y2="11.5" stroke="#0000ff" stroke-width="2.3"/>
<text x="294.20" y="17.20" font-size="13.3" text-anchor="start" font-family="Liberation Serif, serif" font-weight="bold" textLength="52.5" lengthAdjust="spacingAndGlyphs" >4045.24N</text>
<line x1="346.7" y1="11.5" x2="389.4" y2="11.5" stroke="#ff00ff" stroke-width="2.3"/>
<text x="392.30" y="17.20" font-size="13.3" text-anchor="start" font-family="Liberation Serif, serif" font-weight="bold" textLength="53.4" lengthAdjust="spacingAndGlyphs" >5393.66N</text>
<line x1="445.8" y1="11.5" x2="488.0" y2="11.5" stroke="#008000" stroke-width="2.3"/>
<text x="490.80" y="17.20" font-size="13.3" text-anchor="start" font-family="Liberation Serif, serif" font-weight="bold" textLength="53.5" lengthAdjust="spacingAndGlyphs" >6742.04N</text>
<line x1="544.4" y1="11.5" x2="586.2" y2="11.5" stroke="#000080" stroke-width="2.3"/>
<text x="588.80" y="17.20" font-size="13.3" text-anchor="start" font-family="Liberation Serif, serif" font-weight="bold" textLength="54.2" lengthAdjust="spacingAndGlyphs" >8090.49N</text>
<line x1="56.8" y1="293.3" x2="91.9" y2="293.3" stroke="#000000" stroke-width="2.3"/>
<text x="95.60" y="298.20" font-size="13.3" text-anchor="start" font-family="Liberation Serif, serif" font-weight="bold" textLength="60.1" lengthAdjust="spacingAndGlyphs" >1348.875N</text>
<line x1="155.7" y1="293.3" x2="191.5" y2="293.3" stroke="#ff0000" stroke-width="2.3"/>
<text x="194.50" y="298.20" font-size="13.3" text-anchor="start" font-family="Liberation Serif, serif" font-weight="bold" textLength="53.3" lengthAdjust="spacingAndGlyphs" >2697.75N</text>
<line x1="247.8" y1="293.3" x2="283.5" y2="293.3" stroke="#0000ff" stroke-width="2.3"/>
<text x="286.30" y="298.20" font-size="13.3" text-anchor="start" font-family="Liberation Serif, serif" font-weight="bold" textLength="60.3" lengthAdjust="spacingAndGlyphs" >4046.625N</text>
<line x1="346.8" y1="293.3" x2="382.6" y2="293.3" stroke="#ff00ff" stroke-width="2.3"/>
<text x="385.60" y="298.20" font-size="13.3" text-anchor="start" font-family="Liberation Serif, serif" font-weight="bold" textLength="46.5" lengthAdjust="spacingAndGlyphs" >5395.5N</text>
<line x1="432.1" y1="293.3" x2="467.6" y2="293.3" stroke="#008000" stroke-width="2.3"/>
<text x="470.60" y="298.20" font-size="13.3" text-anchor="start" font-family="Liberation Serif, serif" font-weight="bold" textLength="60.3" lengthAdjust="spacingAndGlyphs" >6744.375N</text>
<line x1="530.9" y1="293.3" x2="566.4" y2="293.3" stroke="#000080" stroke-width="2.3"/>
<text x="569.00" y="298.20" font-size="13.3" text-anchor="start" font-family="Liberation Serif, serif" font-weight="bold" textLength="53.9" lengthAdjust="spacingAndGlyphs" >8093.25N</text>
</svg>
</body></html>
